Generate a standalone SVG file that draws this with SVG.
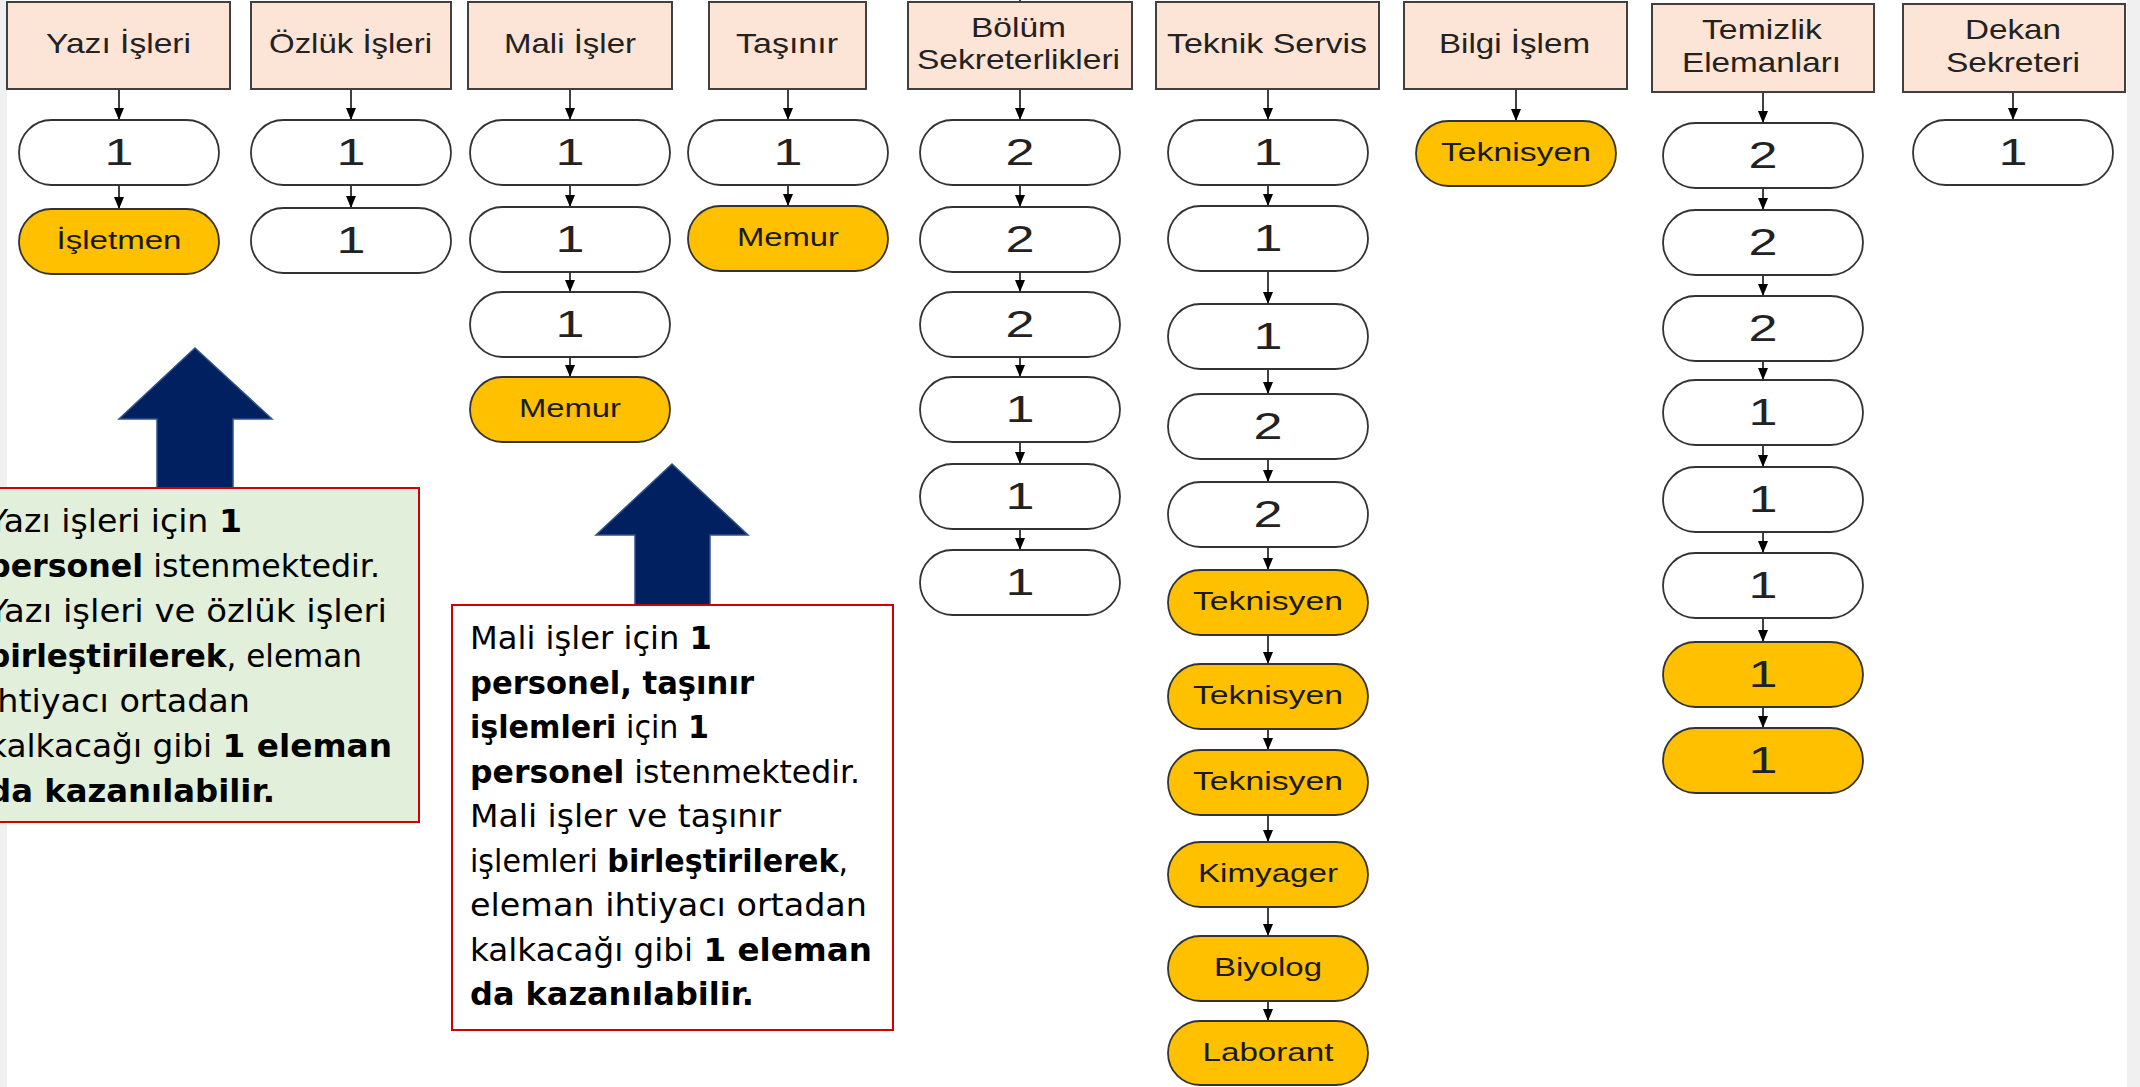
<svg xmlns="http://www.w3.org/2000/svg" width="2140" height="1087" viewBox="0 0 2140 1087">
<defs>
<marker id="ah" viewBox="0 0 12 10" refX="12" refY="5" markerWidth="12" markerHeight="10" markerUnits="userSpaceOnUse" orient="auto">
<path d="M0,0 L12,5 L0,10 z" fill="#000"/>
</marker>
<style>
.hdr{fill:#FCE4D6;stroke:#404040;stroke-width:2}
.pw{fill:#fff;stroke:#333;stroke-width:1.8}
.py{fill:#FFC000;stroke:#333;stroke-width:1.8}
.ht{font-family:"Liberation Sans",Arial,sans-serif;font-size:28px;fill:#222}
.dt{font-family:"Liberation Sans",Arial,sans-serif;font-size:36px;fill:#222}
.lt{font-family:"Liberation Sans",Arial,sans-serif;font-size:26px;fill:#1a1a1a}
.bt{font-family:"DejaVu Sans","Liberation Sans",sans-serif;font-size:32px;fill:#000}
.b{font-weight:700}
.con line{stroke:#000;stroke-width:1.5;marker-end:url(#ah)}
.big{fill:#002060;stroke:#2F528F;stroke-width:1.5}
</style>
</defs>
<rect x="0" y="0" width="2140" height="1087" fill="#fff"/>
<rect x="0" y="0" width="7" height="1087" fill="#F0F0F0"/>
<rect x="2127" y="0" width="13" height="1087" fill="#F0F0F0"/>

<g id="connectors" class="con">
<line x1="119" y1="89" x2="119" y2="120"/><line x1="119" y1="185" x2="119" y2="209"/>
<line x1="351" y1="89" x2="351" y2="120"/><line x1="351" y1="185" x2="351" y2="208"/>
<line x1="570" y1="89" x2="570" y2="120"/><line x1="570" y1="185" x2="570" y2="207"/><line x1="570" y1="272" x2="570" y2="292"/><line x1="570" y1="357" x2="570" y2="377"/>
<line x1="788" y1="89" x2="788" y2="120"/><line x1="788" y1="185" x2="788" y2="206"/>
<line x1="1020" y1="89" x2="1020" y2="120"/><line x1="1020" y1="185" x2="1020" y2="207"/><line x1="1020" y1="272" x2="1020" y2="292"/><line x1="1020" y1="357" x2="1020" y2="377"/><line x1="1020" y1="442" x2="1020" y2="464"/><line x1="1020" y1="529" x2="1020" y2="550"/>
<line x1="1268" y1="89" x2="1268" y2="120"/><line x1="1268" y1="185" x2="1268" y2="206"/><line x1="1268" y1="271" x2="1268" y2="304"/><line x1="1268" y1="369" x2="1268" y2="394"/><line x1="1268" y1="459" x2="1268" y2="482"/><line x1="1268" y1="547" x2="1268" y2="570"/><line x1="1268" y1="635" x2="1268" y2="664"/><line x1="1268" y1="729" x2="1268" y2="750"/><line x1="1268" y1="815" x2="1268" y2="842"/><line x1="1268" y1="907" x2="1268" y2="936"/><line x1="1268" y1="1001" x2="1268" y2="1021"/>
<line x1="1516" y1="89" x2="1516" y2="121"/>
<line x1="1763" y1="92" x2="1763" y2="123"/><line x1="1763" y1="188" x2="1763" y2="210"/><line x1="1763" y1="275" x2="1763" y2="296"/><line x1="1763" y1="361" x2="1763" y2="380"/><line x1="1763" y1="445" x2="1763" y2="467"/><line x1="1763" y1="532" x2="1763" y2="553"/><line x1="1763" y1="618" x2="1763" y2="642"/><line x1="1763" y1="707" x2="1763" y2="728"/>
<line x1="2013" y1="92" x2="2013" y2="120"/>
<path d="M1020,0 V2" stroke="#000" stroke-width="1.5"/>
</g>

<g id="h-yazi"><rect class="hdr" x="7" y="2" width="223" height="87"/><text class="ht" x="46" y="53" textLength="145" lengthAdjust="spacingAndGlyphs">Yazı İşleri</text></g>
<g id="h-ozluk"><rect class="hdr" x="251" y="2" width="200" height="87"/><text class="ht" x="269" y="53" textLength="163" lengthAdjust="spacingAndGlyphs">Özlük İşleri</text></g>
<g id="h-mali"><rect class="hdr" x="468" y="2" width="204" height="87"/><text class="ht" x="504" y="53" textLength="132" lengthAdjust="spacingAndGlyphs">Mali İşler</text></g>
<g id="h-tasinir"><rect class="hdr" x="709" y="2" width="157" height="87"/><text class="ht" x="736" y="53" textLength="102" lengthAdjust="spacingAndGlyphs">Taşınır</text></g>
<g id="h-bolum"><rect class="hdr" x="908" y="2" width="224" height="87"/><text class="ht" x="971" y="37" textLength="95" lengthAdjust="spacingAndGlyphs">Bölüm</text><text class="ht" x="917" y="69" textLength="203" lengthAdjust="spacingAndGlyphs">Sekreterlikleri</text></g>
<g id="h-teknik"><rect class="hdr" x="1156" y="2" width="223" height="87"/><text class="ht" x="1167" y="53" textLength="200" lengthAdjust="spacingAndGlyphs">Teknik Servis</text></g>
<g id="h-bilgi"><rect class="hdr" x="1404" y="2" width="223" height="87"/><text class="ht" x="1439" y="53" textLength="151" lengthAdjust="spacingAndGlyphs">Bilgi İşlem</text></g>
<g id="h-temizlik"><rect class="hdr" x="1652" y="4" width="222" height="88"/><text class="ht" x="1702" y="39" textLength="120" lengthAdjust="spacingAndGlyphs">Temizlik</text><text class="ht" x="1682" y="72" textLength="159" lengthAdjust="spacingAndGlyphs">Elemanları</text></g>
<g id="h-dekan"><rect class="hdr" x="1903" y="4" width="222" height="88"/><text class="ht" x="1965" y="39" textLength="96" lengthAdjust="spacingAndGlyphs">Dekan</text><text class="ht" x="1946" y="72" textLength="134" lengthAdjust="spacingAndGlyphs">Sekreteri</text></g>

<!-- Yazı -->
<g id="yazi-1"><rect class="pw" x="19" y="120" width="200" height="65" rx="32.5"/><text class="dt" x="104.5" y="165" textLength="29" lengthAdjust="spacingAndGlyphs">1</text></g>
<g id="yazi-2"><rect class="py" x="19" y="209" width="200" height="65" rx="32.5"/><text class="lt" x="56.5" y="249" textLength="125" lengthAdjust="spacingAndGlyphs">İşletmen</text></g>
<!-- Özlük -->
<g id="ozluk-1"><rect class="pw" x="251" y="120" width="200" height="65" rx="32.5"/><text class="dt" x="336.5" y="165" textLength="29" lengthAdjust="spacingAndGlyphs">1</text></g>
<g id="ozluk-2"><rect class="pw" x="251" y="208" width="200" height="65" rx="32.5"/><text class="dt" x="336.5" y="253" textLength="29" lengthAdjust="spacingAndGlyphs">1</text></g>
<!-- Mali -->
<g id="mali-1"><rect class="pw" x="470" y="120" width="200" height="65" rx="32.5"/><text class="dt" x="555.5" y="165" textLength="29" lengthAdjust="spacingAndGlyphs">1</text></g>
<g id="mali-2"><rect class="pw" x="470" y="207" width="200" height="65" rx="32.5"/><text class="dt" x="555.5" y="252" textLength="29" lengthAdjust="spacingAndGlyphs">1</text></g>
<g id="mali-3"><rect class="pw" x="470" y="292" width="200" height="65" rx="32.5"/><text class="dt" x="555.5" y="337" textLength="29" lengthAdjust="spacingAndGlyphs">1</text></g>
<g id="mali-4"><rect class="py" x="470" y="377" width="200" height="65" rx="32.5"/><text class="lt" x="519" y="417" textLength="102" lengthAdjust="spacingAndGlyphs">Memur</text></g>
<!-- Taşınır -->
<g id="tasinir-1"><rect class="pw" x="688" y="120" width="200" height="65" rx="32.5"/><text class="dt" x="773.5" y="165" textLength="29" lengthAdjust="spacingAndGlyphs">1</text></g>
<g id="tasinir-2"><rect class="py" x="688" y="206" width="200" height="65" rx="32.5"/><text class="lt" x="737" y="246" textLength="102" lengthAdjust="spacingAndGlyphs">Memur</text></g>
<!-- Bölüm -->
<g id="bolum-1"><rect class="pw" x="920" y="120" width="200" height="65" rx="32.5"/><text class="dt" x="1005.5" y="165" textLength="29" lengthAdjust="spacingAndGlyphs">2</text></g>
<g id="bolum-2"><rect class="pw" x="920" y="207" width="200" height="65" rx="32.5"/><text class="dt" x="1005.5" y="252" textLength="29" lengthAdjust="spacingAndGlyphs">2</text></g>
<g id="bolum-3"><rect class="pw" x="920" y="292" width="200" height="65" rx="32.5"/><text class="dt" x="1005.5" y="337" textLength="29" lengthAdjust="spacingAndGlyphs">2</text></g>
<g id="bolum-4"><rect class="pw" x="920" y="377" width="200" height="65" rx="32.5"/><text class="dt" x="1005.5" y="422" textLength="29" lengthAdjust="spacingAndGlyphs">1</text></g>
<g id="bolum-5"><rect class="pw" x="920" y="464" width="200" height="65" rx="32.5"/><text class="dt" x="1005.5" y="509" textLength="29" lengthAdjust="spacingAndGlyphs">1</text></g>
<g id="bolum-6"><rect class="pw" x="920" y="550" width="200" height="65" rx="32.5"/><text class="dt" x="1005.5" y="595" textLength="29" lengthAdjust="spacingAndGlyphs">1</text></g>
<!-- Teknik -->
<g id="teknik-1"><rect class="pw" x="1168" y="120" width="200" height="65" rx="32.5"/><text class="dt" x="1253.5" y="165" textLength="29" lengthAdjust="spacingAndGlyphs">1</text></g>
<g id="teknik-2"><rect class="pw" x="1168" y="206" width="200" height="65" rx="32.5"/><text class="dt" x="1253.5" y="251" textLength="29" lengthAdjust="spacingAndGlyphs">1</text></g>
<g id="teknik-3"><rect class="pw" x="1168" y="304" width="200" height="65" rx="32.5"/><text class="dt" x="1253.5" y="349" textLength="29" lengthAdjust="spacingAndGlyphs">1</text></g>
<g id="teknik-4"><rect class="pw" x="1168" y="394" width="200" height="65" rx="32.5"/><text class="dt" x="1253.5" y="439" textLength="29" lengthAdjust="spacingAndGlyphs">2</text></g>
<g id="teknik-5"><rect class="pw" x="1168" y="482" width="200" height="65" rx="32.5"/><text class="dt" x="1253.5" y="527" textLength="29" lengthAdjust="spacingAndGlyphs">2</text></g>
<g id="teknik-6"><rect class="py" x="1168" y="570" width="200" height="65" rx="32.5"/><text class="lt" x="1193" y="610" textLength="150" lengthAdjust="spacingAndGlyphs">Teknisyen</text></g>
<g id="teknik-7"><rect class="py" x="1168" y="664" width="200" height="65" rx="32.5"/><text class="lt" x="1193" y="704" textLength="150" lengthAdjust="spacingAndGlyphs">Teknisyen</text></g>
<g id="teknik-8"><rect class="py" x="1168" y="750" width="200" height="65" rx="32.5"/><text class="lt" x="1193" y="790" textLength="150" lengthAdjust="spacingAndGlyphs">Teknisyen</text></g>
<g id="teknik-9"><rect class="py" x="1168" y="842" width="200" height="65" rx="32.5"/><text class="lt" x="1198" y="882" textLength="140" lengthAdjust="spacingAndGlyphs">Kimyager</text></g>
<g id="teknik-10"><rect class="py" x="1168" y="936" width="200" height="65" rx="32.5"/><text class="lt" x="1214" y="976" textLength="108" lengthAdjust="spacingAndGlyphs">Biyolog</text></g>
<g id="teknik-11"><rect class="py" x="1168" y="1021" width="200" height="64" rx="32"/><text class="lt" x="1202.5" y="1061" textLength="131" lengthAdjust="spacingAndGlyphs">Laborant</text></g>
<!-- Bilgi -->
<g id="bilgi-1"><rect class="py" x="1416" y="121" width="200" height="65" rx="32.5"/><text class="lt" x="1441" y="161" textLength="150" lengthAdjust="spacingAndGlyphs">Teknisyen</text></g>
<!-- Temizlik -->
<g id="temizlik-1"><rect class="pw" x="1663" y="123" width="200" height="65" rx="32.5"/><text class="dt" x="1748.5" y="168" textLength="29" lengthAdjust="spacingAndGlyphs">2</text></g>
<g id="temizlik-2"><rect class="pw" x="1663" y="210" width="200" height="65" rx="32.5"/><text class="dt" x="1748.5" y="255" textLength="29" lengthAdjust="spacingAndGlyphs">2</text></g>
<g id="temizlik-3"><rect class="pw" x="1663" y="296" width="200" height="65" rx="32.5"/><text class="dt" x="1748.5" y="341" textLength="29" lengthAdjust="spacingAndGlyphs">2</text></g>
<g id="temizlik-4"><rect class="pw" x="1663" y="380" width="200" height="65" rx="32.5"/><text class="dt" x="1748.5" y="425" textLength="29" lengthAdjust="spacingAndGlyphs">1</text></g>
<g id="temizlik-5"><rect class="pw" x="1663" y="467" width="200" height="65" rx="32.5"/><text class="dt" x="1748.5" y="512" textLength="29" lengthAdjust="spacingAndGlyphs">1</text></g>
<g id="temizlik-6"><rect class="pw" x="1663" y="553" width="200" height="65" rx="32.5"/><text class="dt" x="1748.5" y="598" textLength="29" lengthAdjust="spacingAndGlyphs">1</text></g>
<g id="temizlik-7"><rect class="py" x="1663" y="642" width="200" height="65" rx="32.5"/><text class="dt" x="1748.5" y="687" textLength="29" lengthAdjust="spacingAndGlyphs">1</text></g>
<g id="temizlik-8"><rect class="py" x="1663" y="728" width="200" height="65" rx="32.5"/><text class="dt" x="1748.5" y="773" textLength="29" lengthAdjust="spacingAndGlyphs">1</text></g>
<!-- Dekan -->
<g id="dekan-1"><rect class="pw" x="1913" y="120" width="200" height="65" rx="32.5"/><text class="dt" x="1998.5" y="165" textLength="29" lengthAdjust="spacingAndGlyphs">1</text></g>

<!-- Note 1 -->
<g id="note-yazi">
<polygon class="big" points="195,348 272,419 233,419 233,488 157,488 157,419 119,419"/>
<rect x="-2" y="488" width="421" height="334" fill="#E2EFDA" stroke="#D00000" stroke-width="2"/>
<text class="bt" x="-12" y="532" textLength="254" lengthAdjust="spacingAndGlyphs">Yazı işleri için <tspan class="b">1</tspan></text>
<text class="bt" x="-12" y="577" textLength="392" lengthAdjust="spacingAndGlyphs"><tspan class="b">personel</tspan> istenmektedir.</text>
<text class="bt" x="-12" y="622" textLength="399" lengthAdjust="spacingAndGlyphs">Yazı işleri ve özlük işleri</text>
<text class="bt" x="-12" y="667" textLength="374" lengthAdjust="spacingAndGlyphs"><tspan class="b">birleştirilerek</tspan>, eleman</text>
<text class="bt" x="-12" y="712" textLength="262" lengthAdjust="spacingAndGlyphs">ihtiyacı ortadan</text>
<text class="bt" x="-12" y="757" textLength="404" lengthAdjust="spacingAndGlyphs">kalkacağı gibi <tspan class="b">1 eleman</tspan></text>
<text class="bt" x="-12" y="802" textLength="287" lengthAdjust="spacingAndGlyphs"><tspan class="b">da kazanılabilir.</tspan></text>
</g>

<!-- Note 2 -->
<g id="note-mali">
<polygon class="big" points="672,464 748,535 710,535 710,605 635,605 635,535 596,535"/>
<rect x="452" y="605" width="441" height="425" fill="#fff" stroke="#D00000" stroke-width="2"/>
<text class="bt" x="470" y="649" textLength="242" lengthAdjust="spacingAndGlyphs">Mali işler için <tspan class="b">1</tspan></text>
<text class="bt" x="470" y="693.5" textLength="284" lengthAdjust="spacingAndGlyphs"><tspan class="b">personel, taşınır</tspan></text>
<text class="bt" x="470" y="738" textLength="239" lengthAdjust="spacingAndGlyphs"><tspan class="b">işlemleri</tspan> için <tspan class="b">1</tspan></text>
<text class="bt" x="470" y="782.5" textLength="390" lengthAdjust="spacingAndGlyphs"><tspan class="b">personel</tspan> istenmektedir.</text>
<text class="bt" x="470" y="827" textLength="311" lengthAdjust="spacingAndGlyphs">Mali işler ve taşınır</text>
<text class="bt" x="470" y="871.5" textLength="378" lengthAdjust="spacingAndGlyphs">işlemleri <tspan class="b">birleştirilerek</tspan>,</text>
<text class="bt" x="470" y="916" textLength="397" lengthAdjust="spacingAndGlyphs">eleman ihtiyacı ortadan</text>
<text class="bt" x="470" y="960.5" textLength="402" lengthAdjust="spacingAndGlyphs">kalkacağı gibi <tspan class="b">1 eleman</tspan></text>
<text class="bt" x="470" y="1005" textLength="284" lengthAdjust="spacingAndGlyphs"><tspan class="b">da kazanılabilir.</tspan></text>
</g>
</svg>
